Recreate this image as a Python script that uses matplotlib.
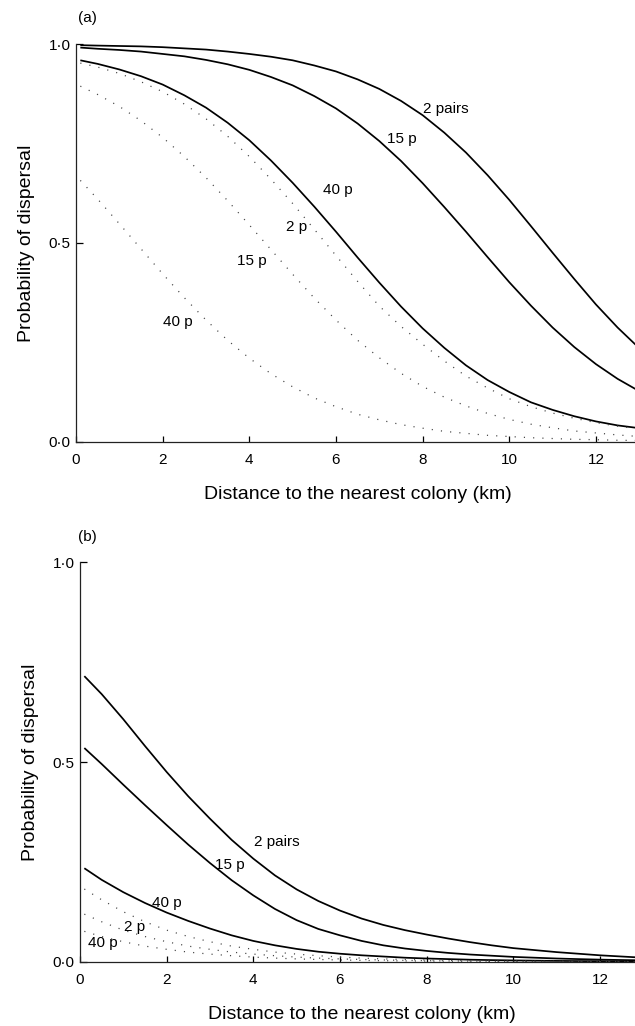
import matplotlib
matplotlib.use("Agg")
import matplotlib.pyplot as plt
from matplotlib.ticker import FixedLocator, FixedFormatter

plt.rcParams['font.family'] = ['Liberation Sans', 'DejaVu Sans']

# ---- data ----
dist_km = [0.1, 0.5, 1, 1.5, 2, 2.5, 3, 3.5, 4, 4.5, 5, 5.5, 6, 6.5, 7, 7.5,
           8, 8.5, 9, 9.5, 10, 10.5, 11, 11.5, 12, 12.5, 13]

# panel (a): solid curves (2 pairs, 15 pairs, 40 pairs)
a_2pairs_solid = [0.997, 0.996, 0.995, 0.994, 0.992, 0.989, 0.986, 0.981, 0.975, 0.968,
                  0.959, 0.946, 0.931, 0.911, 0.887, 0.857, 0.821, 0.777, 0.727, 0.670,
                  0.608, 0.542, 0.475, 0.409, 0.345, 0.287, 0.235]
a_15p_solid    = [0.991, 0.988, 0.985, 0.981, 0.975, 0.969, 0.960, 0.949, 0.935, 0.917,
                  0.896, 0.869, 0.838, 0.800, 0.756, 0.706, 0.650, 0.590, 0.528, 0.464,
                  0.401, 0.342, 0.287, 0.238, 0.195, 0.158, 0.127]
a_40p_solid    = [0.959, 0.950, 0.936, 0.919, 0.898, 0.871, 0.840, 0.802, 0.758, 0.707,
                  0.651, 0.591, 0.528, 0.463, 0.400, 0.340, 0.285, 0.236, 0.192, 0.155,
                  0.125, 0.099, 0.080, 0.064, 0.051, 0.041, 0.034]
# panel (a): dotted curves
a_2p_dotted    = [0.952, 0.942, 0.926, 0.905, 0.880, 0.849, 0.812, 0.768, 0.717, 0.660,
                  0.599, 0.534, 0.468, 0.403, 0.341, 0.290, 0.245, 0.203, 0.165, 0.135,
                  0.108, 0.088, 0.072, 0.059, 0.048, 0.039, 0.032]
a_15p_dotted   = [0.894, 0.873, 0.843, 0.807, 0.765, 0.717, 0.664, 0.606, 0.545, 0.483,
                  0.421, 0.361, 0.306, 0.255, 0.211, 0.172, 0.139, 0.112, 0.090, 0.071,
                  0.056, 0.044, 0.035, 0.027, 0.022, 0.017, 0.013]
a_40p_dotted   = [0.657, 0.610, 0.548, 0.485, 0.422, 0.362, 0.306, 0.255, 0.210, 0.171,
                  0.138, 0.110, 0.088, 0.069, 0.055, 0.043, 0.034, 0.026, 0.021, 0.016,
                  0.013, 0.010, 0.008, 0.006, 0.005, 0.0036, 0.003]

# panel (b): solid curves
b_2pairs_solid = [0.715, 0.670, 0.607, 0.540, 0.475, 0.414, 0.358, 0.305, 0.258, 0.216,
                  0.181, 0.152, 0.128, 0.108, 0.092, 0.079, 0.068, 0.058, 0.049, 0.041,
                  0.034, 0.029, 0.024, 0.020, 0.016, 0.013, 0.010]
b_15p_solid    = [0.535, 0.495, 0.443, 0.392, 0.342, 0.293, 0.247, 0.204, 0.166, 0.132,
                  0.104, 0.082, 0.066, 0.052, 0.041, 0.033, 0.027, 0.022, 0.018, 0.015,
                  0.012, 0.010, 0.008, 0.0065, 0.0052, 0.0042, 0.0034]
b_40p_solid    = [0.234, 0.205, 0.174, 0.147, 0.123, 0.102, 0.083, 0.066, 0.052, 0.041,
                  0.032, 0.025, 0.020, 0.016, 0.013, 0.010, 0.008, 0.0065, 0.005, 0.004,
                  0.0032, 0.0026, 0.002, 0.0016, 0.0013, 0.001, 0.0008]
# panel (b): dotted curves
b_2p_dotted    = [0.182, 0.155, 0.125, 0.100, 0.079, 0.063, 0.050, 0.039, 0.031, 0.024,
                  0.019, 0.015, 0.0115, 0.009, 0.007, 0.0055, 0.0043, 0.0033, 0.0026, 0.002,
                  0.0016, 0.0012, 0.001, 0.0008, 0.0006, 0.0005, 0.0004]
b_15p_dotted   = [0.119, 0.100, 0.079, 0.063, 0.050, 0.039, 0.031, 0.024, 0.019, 0.015,
                  0.0115, 0.009, 0.007, 0.0055, 0.0043, 0.0033, 0.0026, 0.002, 0.0016, 0.0012,
                  0.001, 0.0008, 0.0006, 0.0005, 0.0004, 0.0003, 0.0002]
b_40p_dotted   = [0.076, 0.063, 0.050, 0.039, 0.031, 0.024, 0.019, 0.015, 0.0115, 0.009,
                  0.007, 0.0055, 0.0043, 0.0033, 0.0026, 0.002, 0.0016, 0.0012, 0.001, 0.0008,
                  0.0006, 0.0005, 0.0004, 0.0003, 0.0002, 0.00015, 0.0001]

x_ticks = [0, 2, 4, 6, 8, 10, 12]
x_tick_labels = ['0', '2', '4', '6', '8', '10', '12']
y_ticks = [0.0, 0.5, 1.0]
y_tick_labels = ['0·0', '0·5', '1·0']

a_labels = [("2 pairs", 8.54, 0.837), ("15 p", 7.52, 0.761), ("40 p", 6.05, 0.633),
            ("2 p", 5.08, 0.540), ("15 p", 4.06, 0.454), ("40 p", 2.35, 0.301)]
b_labels = [("2 pairs", 4.55, 0.300), ("15 p", 3.46, 0.242), ("40 p", 2.01, 0.146),
            ("2 p", 1.27, 0.087), ("40 p", 0.53, 0.047)]

x_label = "Distance to the nearest colony (km)"
y_label = "Probability of dispersal"

# ---- figure ----
fig = plt.figure(figsize=(6.35, 10.26), dpi=100)
W, H = 635.0, 1026.0

def make_axes(left_px, bottom_px, top_px):
    px_per_km = 43.33
    width_px = 13 * px_per_km
    return fig.add_axes([left_px / W, (H - bottom_px) / H, width_px / W, (bottom_px - top_px) / H])

ax_a = make_axes(76, 441.7, 44)
ax_b = make_axes(80, 961.7, 562.3)

solid_kw = dict(color='black', lw=1.25, solid_capstyle='butt', solid_joinstyle='round')
dot_kw = dict(color='#444444', lw=0.9, dashes=(0.9, 6.5))

ax_a.plot(dist_km, a_2pairs_solid, **solid_kw)
ax_a.plot(dist_km, a_15p_solid, **solid_kw)
ax_a.plot(dist_km, a_40p_solid, **solid_kw)
ax_a.plot(dist_km, a_2p_dotted, **dot_kw)
ax_a.plot(dist_km, a_15p_dotted, **dot_kw)
ax_a.plot(dist_km, a_40p_dotted, **dot_kw)

ax_b.plot(dist_km, b_2pairs_solid, **solid_kw)
ax_b.plot(dist_km, b_15p_solid, **solid_kw)
ax_b.plot(dist_km, b_40p_solid, **solid_kw)
ax_b.plot(dist_km, b_2p_dotted, **dot_kw)
ax_b.plot(dist_km, b_15p_dotted, **dot_kw)
ax_b.plot(dist_km, b_40p_dotted, **dot_kw)

for ax, labels in ((ax_a, a_labels), (ax_b, b_labels)):
    ax.set_xlim(0, 13)
    ax.set_ylim(0, 1.0)
    for s in ('top', 'right'):
        ax.spines[s].set_visible(False)
    for s in ('left', 'bottom'):
        ax.spines[s].set_linewidth(0.9)
        ax.spines[s].set_color('#222222')
    ax.xaxis.set_major_locator(FixedLocator(x_ticks))
    ax.xaxis.set_major_formatter(FixedFormatter(x_tick_labels))
    ax.yaxis.set_major_locator(FixedLocator(y_ticks))
    ax.yaxis.set_major_formatter(FixedFormatter(y_tick_labels))
    ax.tick_params(axis='x', direction='in', length=4, width=0.9, pad=8, labelsize=11)
    ax.tick_params(axis='y', direction='in', length=5, width=0.9, pad=4, labelsize=11)
    ax.set_xlabel(x_label, fontsize=14, labelpad=14)
    ax.set_ylabel(y_label, fontsize=14, labelpad=10)
    for txt, x, y in labels:
        ax.text(x, y, txt, fontsize=11, ha='center', va='center')

fig.text(87 / W, 1 - 18 / H, "(a)", fontsize=11, ha='center', va='center')
fig.text(87 / W, 1 - 537 / H, "(b)", fontsize=11, ha='center', va='center')

fig.savefig("out.png", dpi=100)
